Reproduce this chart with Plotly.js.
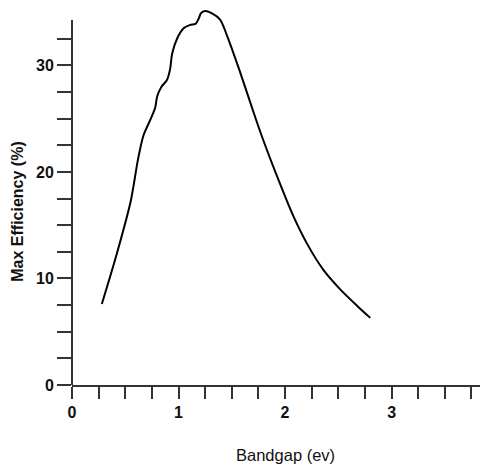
<!DOCTYPE html>
<html>
<head>
<meta charset="utf-8">
<script src="https://cdn.plot.ly/plotly-3.0.1.min.js"></script>
<style>html,body{margin:0;padding:0;background:#fff;}#chart{width:480px;height:468px;}</style>
</head>
<body>
<div id="chart"></div>
<script>
var bandgap = [0.28, 0.42, 0.55, 0.62, 0.67, 0.74, 0.78, 0.80, 0.84, 0.89, 0.92, 0.94, 0.986, 1.05, 1.11, 1.16, 1.19, 1.21, 1.25, 1.31, 1.39, 1.455, 1.57, 1.674, 1.784, 1.956, 2.08, 2.21, 2.36, 2.52, 2.68, 2.80];
var efficiency = [7.6, 12.3, 17.2, 21.2, 23.4, 25.0, 26.0, 27.1, 28.0, 28.6, 29.6, 31.1, 32.5, 33.5, 33.8, 33.9, 34.4, 34.9, 35.1, 34.9, 34.3, 32.8, 29.6, 26.5, 23.3, 18.8, 15.8, 13.2, 10.8, 8.95, 7.4, 6.3];
var xTickVals = [0, 0.25, 0.5, 0.75, 1, 1.25, 1.5, 1.75, 2, 2.25, 2.5, 2.75, 3, 3.25, 3.5, 3.75];
var xTickText = ['0', '', '', '', '1', '', '', '', '2', '', '', '', '3', '', '', ''];
var yTickVals = [0, 2.5, 5, 7.5, 10, 12.5, 15, 17.5, 20, 22.5, 25, 27.5, 30, 32.5];
var yTickText = ['0', '', '', '', '10', '', '', '', '20', '', '', '', '30', ''];
var xTitle = 'Bandgap (ev)';
var yTitle = 'Max Efficiency (%)';

var trace = {
  x: bandgap, y: efficiency, type: 'scatter', mode: 'lines',
  line: {color: '#000', width: 2, shape: 'spline', smoothing: 0.8},
  hoverinfo: 'skip'
};
var axisColor = '#333';
var fam = 'Liberation Sans, Arial, sans-serif';
var layout = {
  width: 480, height: 468,
  margin: {l: 72, r: 0, t: 10, b: 82.5},
  paper_bgcolor: '#fff', plot_bgcolor: '#fff',
  showlegend: false,
  font: {family: fam, color: '#111'},
  xaxis: {
    range: [0, 3.83], showgrid: false, zeroline: false,
    showline: true, linecolor: axisColor, linewidth: 2,
    ticks: 'outside', ticklen: 12, tickwidth: 2, tickcolor: axisColor,
    tickmode: 'array', tickvals: xTickVals, ticktext: xTickText,
    tickfont: {size: 16, family: fam, color: '#111', weight: 'bold'}
  },
  yaxis: {
    range: [0, 35.2], showgrid: false, zeroline: false,
    showline: false,
    ticks: 'outside', ticklen: 14, tickwidth: 2, tickcolor: axisColor,
    tickmode: 'array', tickvals: yTickVals, ticktext: yTickText,
    tickfont: {size: 16, family: fam, color: '#111', weight: 'bold'}
  },
  shapes: [{
    type: 'line', xref: 'paper', yref: 'y', x0: 0, x1: 0, y0: -0.6, y1: 34.25,
    line: {color: axisColor, width: 2}
  }],
  annotations: [
    {text: xTitle, xref: 'paper', yref: 'paper', x: 0.523, y: 0, yshift: -70, xanchor: 'center', yanchor: 'middle', showarrow: false,
     font: {size: 16.5, family: fam, color: '#111'}},
    {text: yTitle, xref: 'paper', yref: 'paper', x: 0, xshift: -54, y: 0.462, xanchor: 'center', yanchor: 'middle', textangle: -90, showarrow: false,
     font: {size: 16, family: fam, color: '#111', weight: 'bold'}}
  ]
};
Plotly.newPlot('chart', [trace], layout, {displayModeBar: false, staticPlot: true});
</script>
</body>
</html>
